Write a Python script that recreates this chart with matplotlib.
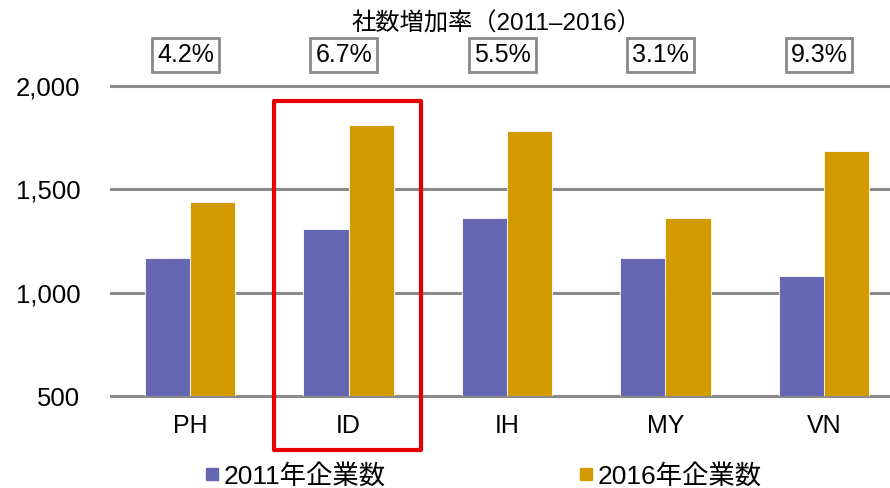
import numpy as np
import matplotlib.pyplot as plt
from matplotlib.lines import Line2D
from matplotlib.patches import Rectangle
from matplotlib.ticker import FuncFormatter
import matplotlib.transforms as mtransforms

plt.rcParams['font.family'] = ['Liberation Sans', 'Noto Sans CJK JP']

categories = ['PH', 'ID', 'IH', 'MY', 'VN']
firms_2011 = [1170, 1307, 1362, 1170, 1079]
firms_2016 = [1439, 1809, 1781, 1360, 1685]
growth_labels = ['4.2%', '6.7%', '5.5%', '3.1%', '9.3%']
series_names = ['2011年企業数', '2016年企業数']
title = '社数増加率（2011–2016）'

c2011 = '#6667B3'
c2016 = '#D39B00'
grid_c = '#8A8A8A'

fig = plt.figure(figsize=(8.9, 4.88), dpi=100)
ax = fig.add_axes([111 / 890, 1 - 396 / 488, 1 - 111 / 890, (396 - 86) / 488])

x = np.arange(len(categories))
w = 0.285
ax.bar(x - w / 2, firms_2011, w, color=c2011, edgecolor='white', linewidth=0.6, zorder=3)
ax.bar(x + w / 2, firms_2016, w, color=c2016, edgecolor='white', linewidth=0.6, zorder=3)

ax.set_ylim(500, 2000)
ax.set_xlim(-0.5, 4.418)
ax.set_yticks([500, 1000, 1500, 2000])
ax.yaxis.set_major_formatter(FuncFormatter(lambda v, p: f'{int(v):,}'))
ax.grid(axis='y', color=grid_c, linewidth=2.2, zorder=1)
for gl in ax.get_ygridlines():
    gl.set_clip_on(False)
for s in ax.spines.values():
    s.set_visible(False)
ax.set_xticks(x)
ax.set_xticklabels(categories)
ax.tick_params(axis='y', length=0, pad=22, labelsize=18.5)
ax.tick_params(axis='x', length=0, pad=13, labelsize=18)

# growth-rate boxes above the plot
trans = mtransforms.blended_transform_factory(ax.transData, fig.transFigure)
for xi, lab in zip(x, growth_labels):
    ax.text(xi - 0.03, 1 - 55 / 488, lab, transform=trans, ha='center', va='center',
            fontsize=18,
            bbox=dict(boxstyle='square,pad=0.2', facecolor='white', edgecolor=grid_c, linewidth=2))

fig.text(496 / 890, 1 - 24 / 488, title, ha='center', va='center', fontsize=17.5)

# red highlight around ID
rect = Rectangle((274 / 890, 1 - 450 / 488), (421 - 274) / 890, (450 - 101) / 488,
                 transform=fig.transFigure, fill=False, edgecolor='#E60000', linewidth=3,
                 joinstyle='round', clip_on=False)
fig.add_artist(rect)

handles = [Line2D([], [], marker='s', linestyle='none', markersize=9, color=c) for c in (c2011, c2016)]
fig.legend(handles, series_names, loc='center', bbox_to_anchor=(484 / 890, 1 - 476 / 488),
           ncol=2, frameon=False, fontsize=19, handlelength=0.45, handletextpad=0.23,
           columnspacing=7.35, borderaxespad=0, borderpad=0)

fig.savefig('out.png', dpi=100)
